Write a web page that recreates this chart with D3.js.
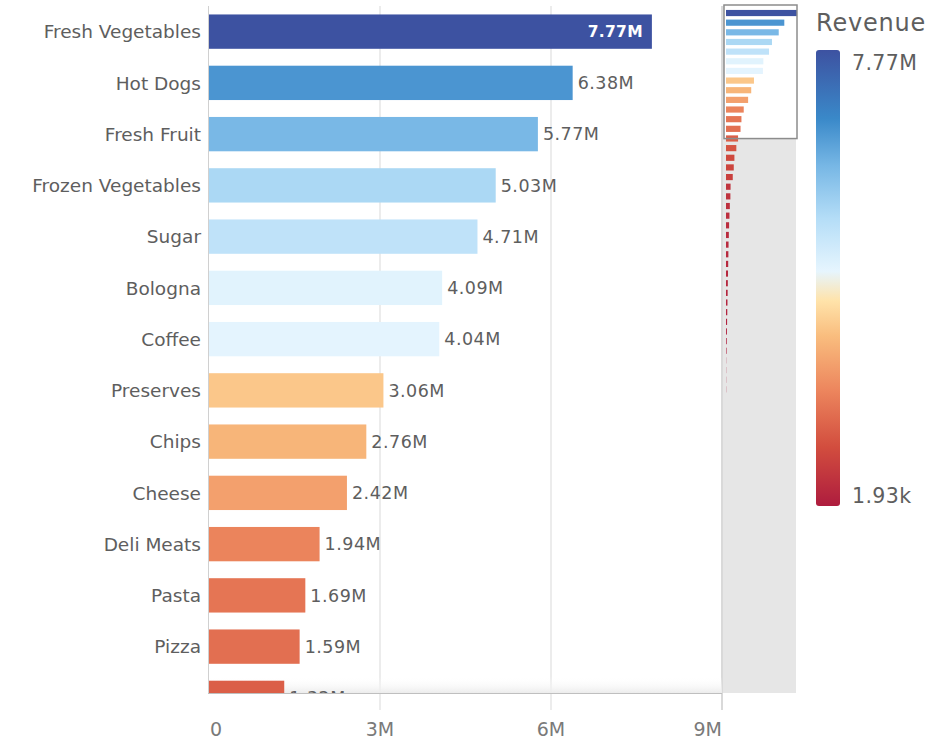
<!DOCTYPE html>
<html>
<head>
<meta charset="utf-8">
<script src="https://cdn.jsdelivr.net/npm/d3@7"></script>
<style>
  html, body { margin: 0; padding: 0; background: #ffffff; }
  svg { display: block; font-family: "DejaVu Sans", "Noto Sans", sans-serif; }
</style>
</head>
<body>
<svg id="chart" width="941" height="743"></svg>
<script>
// Product categories, sorted by revenue (descending)
const categories = [
  "Fresh Vegetables", "Hot Dogs", "Fresh Fruit", "Frozen Vegetables", "Sugar",
  "Bologna", "Coffee", "Preserves", "Chips", "Cheese", "Deli Meats", "Pasta",
  "Pizza", "Bagels", "Paper Wipes", "Frozen Desserts", "Soup", "Dried Fruit",
  "Cookies", "Juice", "Eggs", "Bread", "Milk", "Ice Cream", "Rice",
  "Canned Fruit", "Crackers", "Nuts", "Spices", "Waffles", "Soda", "Yogurt",
  "Candy", "Popcorn", "Flour", "Beer", "Wine", "Tea", "Honey", "Cereal"
];

// Revenue per category
const revenue = [
  7770000, 6380000, 5770000, 5030000, 4710000,
  4090000, 4040000, 3060000, 2760000, 2420000, 1940000, 1690000,
  1590000, 1320000, 1130000, 920000, 850000, 740000,
  500000, 480000, 420000, 380000, 340000, 310000, 280000,
  260000, 240000, 220000, 200000, 180000, 160000, 140000,
  120000, 100000, 80000, 60000, 40000, 20000, 10000, 1930
];

const xTickValues = [0, 3000000, 6000000, 9000000];
const xTickLabels = ["0", "3M", "6M", "9M"];

// Diverging palette, low (red) to high (blue), with stop positions
// given as fractions of the revenue range
const paletteStops = ["#ae1c3e", "#d24d3e", "#ed875e", "#f9bd7e", "#ffe3aa",
                      "#e6f5fe", "#b4ddf7", "#77b7e5", "#3a89c9", "#3d52a1"];
const paletteOffsets = [0, 0.129, 0.257, 0.373, 0.45, 0.515, 0.631, 0.746, 0.849, 1];

const legendTitle = "Revenue";

const data = categories.map((c, i) => ({ name: c, value: revenue[i] }));

function fmt(v) {
  if (v >= 1e6) return (v / 1e6).toFixed(2) + "M";
  if (v >= 1e3) return (v / 1e3).toFixed(2) + "k";
  return String(v);
}

const svg = d3.select("#chart");
const textColor = "#5e5e5e";

// ---- main plot geometry ----
const plot = { left: 209, right: 722, top: 6, bottom: 693 };
const step = 51.25;

const x = d3.scaleLinear().domain([0, 9000000]).range([plot.left, plot.right]);
const y = d3.scaleBand()
  .domain(categories)
  .range([plot.top, plot.top + step * categories.length])
  .paddingInner(0.33)
  .paddingOuter(0.165);

// rows that fall (at least partly) inside the scrolled plot window
const inView = data.filter(d => y(d.name) < plot.bottom);
// rows whose label fits completely inside the window
const labelled = data.filter(d => y(d.name) + y.bandwidth() <= plot.bottom);

const vMin = d3.min(revenue), vMax = d3.max(revenue);
const color = d3.scaleLinear()
  .domain(paletteOffsets.map(f => vMin + (vMax - vMin) * f))
  .range(paletteStops)
  .interpolate(d3.interpolateRgb);

const defs = svg.append("defs");
defs.append("clipPath").attr("id", "plotClip")
  .append("rect")
  .attr("x", 0).attr("y", 0)
  .attr("width", plot.right + 2).attr("height", plot.bottom);

// scroll fade at the bottom of the plot
const fade = defs.append("linearGradient").attr("id", "fade")
  .attr("x1", 0).attr("x2", 0).attr("y1", 0).attr("y2", 1);
fade.append("stop").attr("offset", "0%").attr("stop-color", "#ffffff").attr("stop-opacity", 0);
fade.append("stop").attr("offset", "100%").attr("stop-color", "#ececec").attr("stop-opacity", 1);

// ---- mini overview chart background (sits behind the 9M gridline) ----
const mini = { left: 723, right: 796, top: 5, bottom: 693 };
svg.append("rect")
  .attr("x", mini.left).attr("y", mini.top)
  .attr("width", mini.right - mini.left).attr("height", mini.bottom - mini.top)
  .attr("fill", "#e6e6e6");

// vertical gridlines with ticks below the axis
svg.append("g").selectAll("line")
  .data(xTickValues.slice(1))
  .join("line")
  .attr("x1", d => x(d)).attr("x2", d => x(d))
  .attr("y1", plot.top).attr("y2", plot.bottom + 17)
  .attr("stroke", (d, i, n) => i === n.length - 1 ? "#cccccc" : "#d9d9d9")
  .attr("stroke-width", (d, i, n) => i === n.length - 1 ? 1.5 : 1);

svg.append("rect")
  .attr("x", plot.left).attr("y", plot.bottom - 16)
  .attr("width", plot.right - plot.left).attr("height", 16)
  .attr("fill", "url(#fade)");

// bars + value labels
const barsG = svg.append("g").attr("clip-path", "url(#plotClip)");
barsG.selectAll("rect")
  .data(inView)
  .join("rect")
  .attr("x", x(0))
  .attr("y", d => y(d.name))
  .attr("width", d => x(d.value) - x(0))
  .attr("height", y.bandwidth())
  .attr("fill", d => color(d.value));

const insideLimit = 7000000;
barsG.selectAll("text.val")
  .data(inView)
  .join("text")
  .attr("class", "val")
  .attr("x", d => d.value > insideLimit ? x(d.value) - 9 : x(d.value) + 5)
  .attr("y", d => y(d.name) + y.bandwidth() / 2)
  .attr("dy", "0.36em")
  .attr("text-anchor", d => d.value > insideLimit ? "end" : "start")
  .attr("font-size", d => d.value > insideLimit ? 15.5 : 17.5)
  .attr("letter-spacing", d => d.value > insideLimit ? 0.3 : 0.5)
  .attr("font-weight", d => d.value > insideLimit ? 700 : 400)
  .attr("fill", d => d.value > insideLimit ? "#ffffff" : textColor)
  .text(d => fmt(d.value));

// category labels
svg.append("g")
  .selectAll("text")
  .data(labelled)
  .join("text")
  .attr("x", plot.left - 8)
  .attr("y", d => y(d.name) + y.bandwidth() / 2)
  .attr("dy", "0.36em")
  .attr("text-anchor", "end")
  .attr("font-size", 18.5)
  .attr("fill", textColor)
  .text(d => d.name);

// axis lines
svg.append("line")
  .attr("x1", plot.left - 0.5).attr("x2", plot.left - 0.5)
  .attr("y1", plot.top).attr("y2", plot.bottom)
  .attr("stroke", "#d0d0d0");
svg.append("line")
  .attr("x1", plot.left - 1).attr("x2", plot.right)
  .attr("y1", plot.bottom + 0.5).attr("y2", plot.bottom + 0.5)
  .attr("stroke", "#bfbfbf");

// x tick labels
const lastTick = xTickValues.length - 1;
svg.append("g").selectAll("text")
  .data(xTickValues)
  .join("text")
  .attr("x", (d, i) => i === 0 ? x(d) + 1 : x(d))
  .attr("y", 736)
  .attr("text-anchor", (d, i) => i === 0 ? "start" : (i === lastTick ? "end" : "middle"))
  .attr("font-size", 19)
  .attr("fill", "#7a7a7a")
  .text((d, i) => xTickLabels[i]);

// ---- mini overview chart bars ----
const miniStep = 9.65;
const my = d3.scaleBand()
  .domain(categories)
  .range([8.2, 8.2 + miniStep * categories.length])
  .paddingInner(0.36)
  .paddingOuter(0.18);
const mx = d3.scaleLinear().domain([0, vMax]).range([726, 797]);

// viewport window: the categories visible in the main plot
const visibleSteps = (plot.bottom - plot.top) / step;
const winTop = 5, winBottom = 8.2 + visibleSteps * miniStep + 1;
svg.append("rect")
  .attr("x", 724).attr("y", winTop)
  .attr("width", 797 - 724).attr("height", winBottom - winTop)
  .attr("fill", "#ffffff");

svg.append("g").selectAll("rect")
  .data(data)
  .join("rect")
  .attr("x", mx(0))
  .attr("y", d => my(d.name))
  .attr("width", d => Math.max(0.5, mx(d.value) - mx(0)))
  .attr("height", my.bandwidth())
  .attr("fill", d => color(d.value))
  .attr("fill-opacity", d => mx(d.value) - mx(0) < 0.5 ? 0.35 : 1);

svg.append("rect")
  .attr("x", 724).attr("y", winTop)
  .attr("width", 797 - 724).attr("height", winBottom - winTop)
  .attr("fill", "none")
  .attr("stroke", "#8c8c8c").attr("stroke-width", 1.5);

// ---- color legend ----
const lg = { x: 816, top: 50, bottom: 506, w: 24 };
const grad = defs.append("linearGradient").attr("id", "legendGrad")
  .attr("x1", 0).attr("x2", 0).attr("y1", 0).attr("y2", 1);
paletteStops.map((c, i) => ({ c, off: 1 - paletteOffsets[i] }))
  .sort((a, b) => a.off - b.off)
  .forEach(s => grad.append("stop").attr("offset", (s.off * 100) + "%").attr("stop-color", s.c));

svg.append("text")
  .attr("x", lg.x).attr("y", 31)
  .attr("font-size", 24)
  .attr("letter-spacing", 0.8)
  .attr("fill", textColor)
  .text(legendTitle);

svg.append("rect")
  .attr("x", lg.x).attr("y", lg.top)
  .attr("width", lg.w).attr("height", lg.bottom - lg.top)
  .attr("rx", 3).attr("ry", 3)
  .attr("fill", "url(#legendGrad)");

svg.append("text")
  .attr("x", 852).attr("y", 70)
  .attr("font-size", 20.5)
  .attr("letter-spacing", 0.4)
  .attr("fill", textColor)
  .text(fmt(vMax));
svg.append("text")
  .attr("x", 852).attr("y", 503)
  .attr("font-size", 20.5)
  .attr("letter-spacing", 0.4)
  .attr("fill", textColor)
  .text(fmt(vMin));
</script>
</body>
</html>
